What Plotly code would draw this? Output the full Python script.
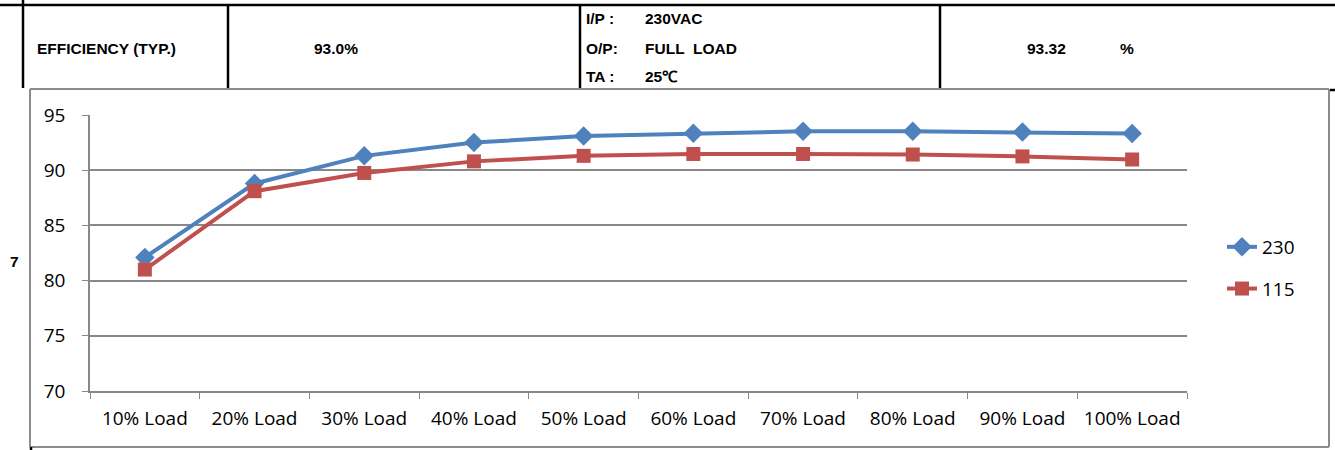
import plotly.graph_objects as go

categories = ["10% Load", "20% Load", "30% Load", "40% Load", "50% Load",
              "60% Load", "70% Load", "80% Load", "90% Load", "100% Load"]
eff_230 = [82.1, 88.8, 91.3, 92.5, 93.1, 93.35, 93.52, 93.52, 93.45, 93.32]
eff_115 = [81.0, 88.1, 89.75, 90.8, 91.3, 91.47, 91.47, 91.42, 91.25, 90.97]
y_ticks = [70, 75, 80, 85, 90, 95]

W, H = 1335, 450
L, R, T, B = 90, 1187, 115, 391  # plot area in page pixels


def px(x):
    return (x - L) / (R - L)


def py(y):
    return (B - y) / (B - T)


fig = go.Figure()
fig.add_trace(go.Scatter(
    x=categories, y=eff_230, name="230", mode="lines+markers",
    line=dict(color="#4F81BD", width=4),
    marker=dict(symbol="diamond", size=15, color="#4F81BD"),
    legendgroup="a"))
fig.add_trace(go.Scatter(
    x=categories, y=eff_115, name="115", mode="lines+markers",
    line=dict(color="#C0504D", width=4),
    marker=dict(symbol="square", size=14, color="#C0504D"),
    legendgroup="b"))

tick_font = dict(family="Open Sans, Liberation Sans, sans-serif", size=19, color="#000")
fig.update_xaxes(
    type="category", range=[-0.5, 9.5], showgrid=False, showline=True,
    linecolor="#888", linewidth=1.5, ticks="outside", ticklen=6, tickcolor="#888",
    tickson="boundaries", tickfont=tick_font, ticklabelstandoff=9, fixedrange=True)
fig.update_yaxes(
    range=[70, 95], tickvals=y_ticks, showgrid=True, gridcolor="#888", gridwidth=1.5,
    showline=True, linecolor="#888", linewidth=1.5, ticks="outside", ticklen=6,
    tickcolor="#888", tickfont=tick_font, ticklabelstandoff=13, zeroline=False,
    fixedrange=True)

shapes = []
# chart frame (gray)
gry = dict(color="#8c8c8c", width=2)
for x0, y0, x1, y1 in [(30, 89, 1329, 89), (30, 447, 1329, 447),
                       (30, 89, 30, 447), (1329, 89, 1329, 447)]:
    shapes.append(dict(type="line", xref="paper", yref="paper",
                       x0=px(x0), y0=py(y0), x1=px(x1), y1=py(y1), line=gry, layer="below"))
# spreadsheet table lines
blk = dict(color="#000", width=2.5)
for x0, y0, x1, y1 in [
    (0, 5, 1335, 5), (23, 0, 23, 88), (228, 5, 228, 88), (580, 5, 580, 88),
    (940, 5, 940, 88), (1330, 90, 1335, 90), (31, 447, 31, 450)]:
    shapes.append(dict(type="line", xref="paper", yref="paper",
                       x0=px(x0), y0=py(y0), x1=px(x1), y1=py(y1), line=blk))

tfont = dict(family="Liberation Sans Narrow, Arial Narrow, Liberation Sans, sans-serif",
             size=15.5, color="#000")
texts = [
    (35, 48, "<b>EFFICIENCY (TYP.)</b>"),
    (312, 48, "<b>93.0%</b>"),
    (584, 18, "<b>I/P :</b>"),
    (643, 18, "<b>230VAC</b>"),
    (584, 48, "<b>O/P:</b>"),
    (643, 48, "<b>FULL  LOAD</b>"),
    (584, 76, "<b>TA :</b>"),
    (643, 76, "<b>25℃</b>"),
    (1025, 48, "<b>93.32</b>"),
    (1118, 48, "<b>%</b>"),
    (8, 261, "<b>7</b>"),
]
annotations = [dict(x=px(x), y=py(y), xref="paper", yref="paper", text=t,
                    showarrow=False, xanchor="left", yanchor="middle", font=tfont)
               for x, y, t in texts]

fig.update_layout(
    width=W, height=H,
    margin=dict(l=L, r=W - R, t=T, b=H - B),
    paper_bgcolor="white", plot_bgcolor="white",
    shapes=shapes, annotations=annotations,
    showlegend=True,
    legend=dict(x=px(1222), y=py(228), xanchor="left", yanchor="top",
                font=dict(family="Open Sans, Liberation Sans, sans-serif", size=19, color="#000"),
                tracegroupgap=14, bgcolor="rgba(0,0,0,0)", itemwidth=30),
)

fig.write_html(
    "out.html",
    config={"displayModeBar": False},
    post_script="document.body.style.margin='0';document.body.style.overflow='hidden';",
)
